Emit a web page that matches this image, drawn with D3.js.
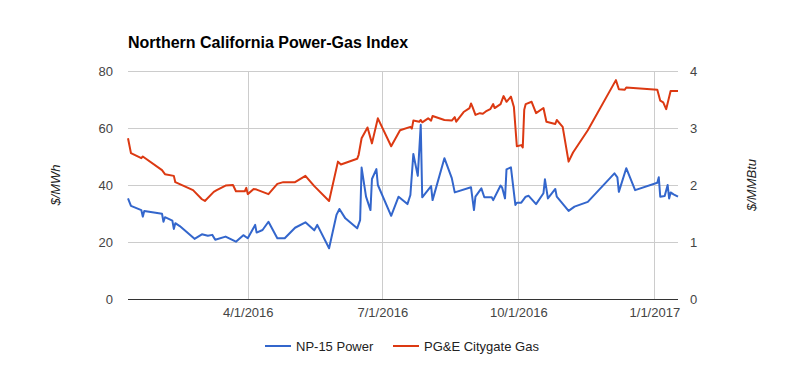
<!DOCTYPE html>
<html>
<head>
<meta charset="utf-8">
<script src="https://cdn.jsdelivr.net/npm/d3@7"></script>
<style>
  body { margin: 0; background: #fff; }
  svg { display: block; font-family: Arial, "Liberation Sans", sans-serif; }
</style>
</head>
<body>
<div id="chart"></div>
<script>
// ---- DATA ----
const title = "Northern California Power-Gas Index";
const powerName = "NP-15 Power";
const gasName = "PG&E Citygate Gas";
const leftAxisTitle = "$/MWh";
const rightAxisTitle = "$/MMBtu";
const leftTicks = [0, 20, 40, 60, 80];
const rightTicks = [0, 1, 2, 3, 4];
const xTicks = ["2016-04-01", "2016-07-01", "2016-10-01", "2017-01-01"];
const xDomain = ["2016-01-11", "2017-01-17"];

const powerDates = [
  "2016-01-11","2016-01-13","2016-01-20","2016-01-21","2016-01-22","2016-02-03","2016-02-04","2016-02-05",
  "2016-02-10","2016-02-11","2016-02-12","2016-02-15","2016-02-25","2016-03-01","2016-03-05","2016-03-08",
  "2016-03-10","2016-03-17","2016-03-24","2016-03-29","2016-04-01","2016-04-06","2016-04-07","2016-04-11",
  "2016-04-15","2016-04-21","2016-04-26","2016-05-03","2016-05-10","2016-05-16","2016-05-18","2016-05-26",
  "2016-05-31","2016-06-02","2016-06-06","2016-06-14","2016-06-16","2016-06-17","2016-06-20","2016-06-23",
  "2016-06-24","2016-06-27","2016-06-28","2016-07-07","2016-07-12","2016-07-18","2016-07-20","2016-07-22",
  "2016-07-25","2016-07-27","2016-07-28","2016-08-03","2016-08-04","2016-08-12","2016-08-17","2016-08-19",
  "2016-08-30","2016-09-01","2016-09-02","2016-09-06","2016-09-08","2016-09-13","2016-09-14","2016-09-19",
  "2016-09-20","2016-09-22","2016-09-23","2016-09-26","2016-09-29","2016-09-30","2016-10-03","2016-10-06",
  "2016-10-08","2016-10-13","2016-10-18","2016-10-19","2016-10-21","2016-10-26","2016-10-27","2016-11-04",
  "2016-11-08","2016-11-17","2016-12-05","2016-12-07","2016-12-08","2016-12-13","2016-12-19","2017-01-03",
  "2017-01-04","2017-01-05","2017-01-08","2017-01-10","2017-01-11","2017-01-12","2017-01-14","2017-01-17"
];
const powerValues = [
  35.3,32.7,31.2,28.9,30.9,29.9,27.1,28.7,
  27.5,24.6,26.6,25.6,21.1,22.7,22.2,22.5,
  20.8,21.9,20.1,22.4,21.3,26.0,23.3,24.2,
  27.1,21.3,21.3,25.0,26.9,24.1,26.0,17.8,
  29.5,31.6,28.3,24.8,27.7,46.1,35.9,31.2,
  42.1,45.6,40.0,29.2,35.9,33.3,36.5,50.9,
  43.2,61.1,35.7,39.6,34.7,49.4,42.4,37.4,
  39.2,31.2,35.9,38.8,35.7,35.7,34.7,39.8,
  39.2,35.3,45.5,46.2,33.0,33.8,33.8,35.9,
  36.2,33.3,37.1,42.0,35.3,38.6,35.9,30.9,
  32.4,34.1,44.1,42.7,37.6,45.9,38.2,40.8,
  42.7,35.9,36.1,40.0,35.3,37.4,36.7,35.9
];

const gasDates = [
  "2016-01-11","2016-01-13","2016-01-20","2016-01-21","2016-02-03","2016-02-05","2016-02-11","2016-02-12",
  "2016-02-24","2016-03-01","2016-03-03","2016-03-09","2016-03-11","2016-03-17","2016-03-22","2016-03-24",
  "2016-03-30","2016-03-31","2016-04-01","2016-04-05","2016-04-07","2016-04-15","2016-04-21","2016-04-25",
  "2016-05-03","2016-05-10","2016-05-16","2016-05-26","2016-06-01","2016-06-03","2016-06-14","2016-06-15",
  "2016-06-17","2016-06-21","2016-06-24","2016-06-28","2016-07-07","2016-07-13","2016-07-20","2016-07-21",
  "2016-07-22","2016-07-26","2016-07-27","2016-07-28","2016-08-01","2016-08-03","2016-08-04","2016-08-12",
  "2016-08-17","2016-08-19","2016-08-20","2016-08-25","2016-08-29","2016-08-30","2016-08-31","2016-09-02",
  "2016-09-05","2016-09-07","2016-09-09","2016-09-12","2016-09-14","2016-09-15","2016-09-19","2016-09-21",
  "2016-09-23","2016-09-26","2016-09-28","2016-09-30","2016-10-03","2016-10-04","2016-10-05","2016-10-06",
  "2016-10-10","2016-10-13","2016-10-18","2016-10-20","2016-10-26","2016-10-27","2016-10-31","2016-11-04",
  "2016-11-07","2016-11-17","2016-12-06","2016-12-08","2016-12-12","2016-12-13","2017-01-03","2017-01-05",
  "2017-01-07","2017-01-09","2017-01-12","2017-01-17"
];
const gasValues = [
  2.82,2.56,2.47,2.50,2.26,2.19,2.16,2.05,
  1.91,1.75,1.72,1.88,1.91,1.99,2.00,1.89,
  1.89,1.95,1.84,1.93,1.92,1.84,2.02,2.05,
  2.05,2.16,1.98,1.72,2.41,2.36,2.46,2.53,
  2.82,3.01,2.73,3.17,2.68,2.96,3.02,2.99,
  3.13,3.11,3.14,3.10,3.17,3.13,3.21,3.14,
  3.13,3.19,3.11,3.28,3.35,3.43,3.37,3.23,
  3.26,3.25,3.29,3.33,3.42,3.35,3.42,3.56,
  3.46,3.55,3.37,2.68,2.70,2.66,3.32,3.42,
  3.46,3.26,3.35,3.11,3.07,3.14,3.02,2.41,
  2.57,2.96,3.84,3.68,3.67,3.71,3.67,3.48,
  3.45,3.33,3.65,3.65
];

// ---- CHART ----
const W = 805, H = 371;
const plotL = 128, plotR = 678, plotT = 71, plotB = 299;
const parse = d3.timeParse("%Y-%m-%d");
const fmt = d3.timeFormat("%-m/%-d/%Y");
const FONT = "Arial, 'Liberation Sans', sans-serif";

const svg = d3.select("#chart").append("svg").attr("width", W).attr("height", H);

const x = d3.scaleTime().domain(xDomain.map(parse)).range([plotL, plotR]);
const yL = d3.scaleLinear().domain([0, 80]).range([plotB, plotT]);
const yR = d3.scaleLinear().domain([0, 4]).range([plotB, plotT]);

// title
svg.append("text").attr("x", plotL).attr("y", 48)
  .attr("font-size", 16).attr("font-weight", "bold").attr("fill", "#000").text(title);

// horizontal gridlines
svg.append("g").selectAll("line").data(leftTicks.filter(d => d > 0)).join("line")
  .attr("x1", plotL).attr("x2", plotR)
  .attr("y1", d => Math.round(yL(d)) + 0.5).attr("y2", d => Math.round(yL(d)) + 0.5)
  .attr("stroke", "#cccccc").attr("stroke-width", 1);

// vertical gridlines
svg.append("g").selectAll("line").data(xTicks.map(parse)).join("line")
  .attr("x1", d => Math.round(x(d)) + 0.5).attr("x2", d => Math.round(x(d)) + 0.5)
  .attr("y1", plotT).attr("y2", plotB)
  .attr("stroke", "#cccccc").attr("stroke-width", 1);

// left axis labels
const gl = svg.append("g").attr("transform", `translate(${plotL - 15},0)`)
  .call(d3.axisLeft(yL).tickValues(leftTicks).tickFormat(d3.format("d")).tickSize(0).tickPadding(0));
gl.select(".domain").remove();
gl.selectAll("text").attr("font-size", 13).attr("fill", "#444").attr("font-family", FONT);

// right axis labels
const gr = svg.append("g").attr("transform", `translate(${plotR + 12},0)`)
  .call(d3.axisRight(yR).tickValues(rightTicks).tickFormat(d3.format("d")).tickSize(0).tickPadding(0));
gr.select(".domain").remove();
gr.selectAll("text").attr("font-size", 13).attr("fill", "#444").attr("font-family", FONT);

// x axis labels
const gx = svg.append("g").attr("transform", `translate(0,${plotB + 9})`)
  .call(d3.axisBottom(x).tickValues(xTicks.map(parse)).tickFormat(fmt).tickSize(0).tickPadding(0));
gx.select(".domain").remove();
gx.selectAll("text").attr("font-size", 13).attr("fill", "#444").attr("font-family", FONT);

// baseline
svg.append("line").attr("x1", plotL).attr("x2", plotR)
  .attr("y1", plotB + 0.5).attr("y2", plotB + 0.5)
  .attr("stroke", "#333").attr("stroke-width", 1);

// axis titles
svg.append("text").attr("transform", `translate(60,185) rotate(-90)`)
  .attr("text-anchor", "middle").attr("font-size", 13).attr("font-style", "italic")
  .attr("fill", "#222").text(leftAxisTitle);
svg.append("text").attr("transform", `translate(756,185) rotate(-90)`)
  .attr("text-anchor", "middle").attr("font-size", 13).attr("font-style", "italic")
  .attr("fill", "#222").text(rightAxisTitle);

// lines
const powerData = powerDates.map((d, i) => ({ date: parse(d), v: powerValues[i] }));
const gasData = gasDates.map((d, i) => ({ date: parse(d), v: gasValues[i] }));

svg.append("path").datum(powerData)
  .attr("fill", "none").attr("stroke", "#3366cc").attr("stroke-width", 2).attr("stroke-linejoin", "round")
  .attr("d", d3.line().x(d => x(d.date)).y(d => yL(d.v)));
svg.append("path").datum(gasData)
  .attr("fill", "none").attr("stroke", "#dc3912").attr("stroke-width", 2).attr("stroke-linejoin", "round")
  .attr("d", d3.line().x(d => x(d.date)).y(d => yR(d.v)));

// legend
const legend = [
  { name: powerName, color: "#3366cc", x0: 265 },
  { name: gasName, color: "#dc3912", x0: 393 }
];
const lg = svg.append("g").selectAll("g").data(legend).join("g")
  .attr("transform", d => `translate(${d.x0},346)`);
lg.append("line").attr("x1", 0).attr("x2", 26).attr("y1", 0).attr("y2", 0)
  .attr("stroke", d => d.color).attr("stroke-width", 2);
lg.append("text").attr("x", 31).attr("y", 0).attr("dy", "0.35em")
  .attr("font-size", 13).attr("fill", "#222").text(d => d.name);
</script>
</body>
</html>
